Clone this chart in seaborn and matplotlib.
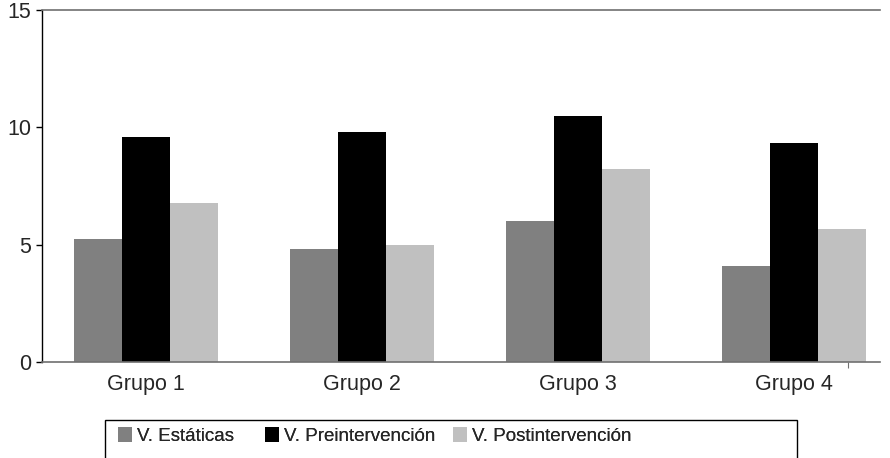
import matplotlib
matplotlib.use("Agg")
import matplotlib.pyplot as plt
import seaborn as sns
import pandas as pd
from matplotlib.patches import Rectangle, Patch

# Data
grupos = ['Grupo 1', 'Grupo 2', 'Grupo 3', 'Grupo 4']
series = ['V. Estáticas', 'V. Preintervención', 'V. Postintervención']
v_estaticas = [5.24, 4.81, 6.0, 4.09]
v_pre = [9.59, 9.80, 10.48, 9.33]
v_post = [6.77, 4.98, 8.22, 5.68]
colores = ['#808080', '#000000', '#c0c0c0']

df = pd.DataFrame({
    'grupo': grupos * 3,
    'serie': [series[0]] * 4 + [series[1]] * 4 + [series[2]] * 4,
    'valor': v_estaticas + v_pre + v_post,
})

sns.set_style('white')
plt.rcParams['font.family'] = ['Liberation Sans', 'DejaVu Sans']

fig = plt.figure(figsize=(8.9, 4.58), dpi=100)
ax = fig.add_axes([42 / 890, 1 - 362 / 458, 838 / 890, 352 / 458])

sns.barplot(data=df, x='grupo', y='valor', hue='serie', palette=colores,
            width=0.667, saturation=1, legend=False, ax=ax, edgecolor='none')

ax.set_xlim(-0.48, 3.40)
ax.set_ylim(0, 15)
ax.set_yticks([0, 5, 10, 15])
ax.set_xticks([3.25], minor=True)
ax.set_xlabel('')
ax.set_ylabel('')
ax.tick_params(axis='y', left=True, length=4, width=1, color='black', labelsize=15.5, pad=4)
ax.tick_params(axis='x', which='major', bottom=False, labelsize=15.5, pad=5)
ax.tick_params(axis='x', which='minor', bottom=True, length=4, width=0.8, color='#707070')

ax.spines['right'].set_visible(False)
ax.spines['left'].set_color('black')
ax.spines['left'].set_linewidth(1)
ax.spines['top'].set_color('#707070')
ax.spines['top'].set_linewidth(1.2)
ax.spines['bottom'].set_color('#707070')
ax.spines['bottom'].set_linewidth(1.2)

# Legend box, one entry per legend so each sits where the reference puts it
fig.patches.append(Rectangle((105 / 890, -0.02), 692 / 890, 1 - 420 / 458 + 0.02,
                             transform=fig.transFigure, fill=False,
                             edgecolor='black', linewidth=1))
x_entradas = [118, 265, 453]
for nombre, color, xe in zip(series, colores, x_entradas):
    leg = fig.legend([Patch(facecolor=color, edgecolor='none')], [nombre],
                     loc='center left', bbox_to_anchor=(xe / 890, 1 - 436 / 458),
                     frameon=False, fontsize=13.5, handlelength=0.72, handleheight=0.8,
                     handletextpad=0.3, borderaxespad=0, borderpad=0)
    fig.add_artist(leg)

fig.savefig('out.png', dpi=100)
